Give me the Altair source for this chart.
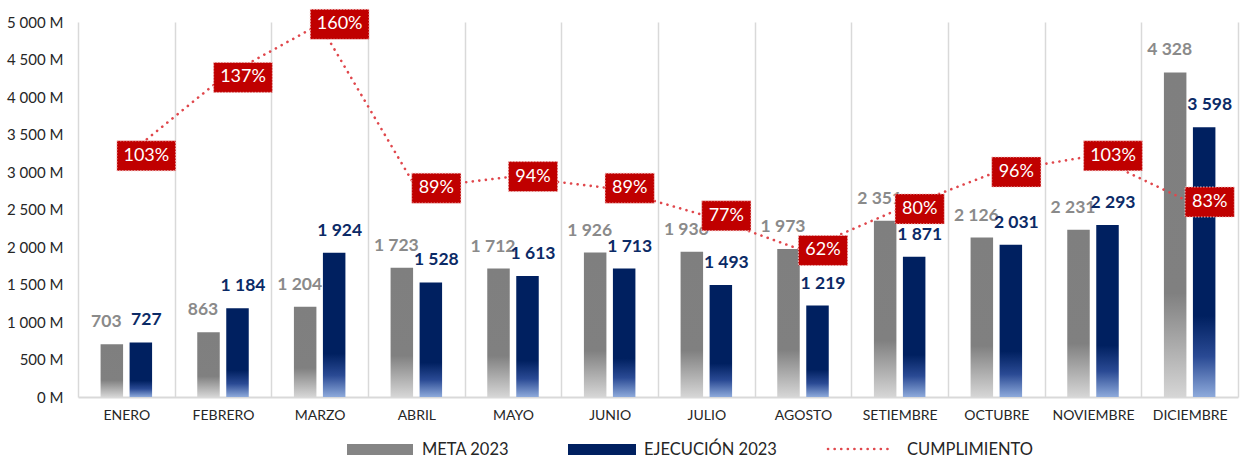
import altair as alt
import pandas as pd

# ---------------- data ----------------
meses = ["ENERO", "FEBRERO", "MARZO", "ABRIL", "MAYO", "JUNIO", "JULIO",
         "AGOSTO", "SETIEMBRE", "OCTUBRE", "NOVIEMBRE", "DICIEMBRE"]
meta = [703, 863, 1204, 1723, 1712, 1926, 1936, 1973, 2351, 2126, 2231, 4328]
ejecucion = [727, 1184, 1924, 1528, 1613, 1713, 1493, 1219, 1871, 2031, 2293, 3598]
cumplimiento = [103, 137, 160, 89, 94, 89, 77, 62, 80, 96, 103, 83]
y_ticks = [0, 500, 1000, 1500, 2000, 2500, 3000, 3500, 4000, 4500, 5000]
serie_meta = "META 2023"
serie_ejec = "EJECUCIÓN 2023"
serie_cump = "CUMPLIMIENTO"

df = pd.DataFrame({"mes": meses, "meta": meta, "ejec": ejecucion, "cump": cumplimiento})

FONT = "Lato"
W, H = 1160, 375
NAVY = "#002060"
RED_BOX = "#c00000"
RED_LINE = "#e0474c"
TXT = "#262626"

x_enc = alt.X(
    "mes:N", sort=meses,
    scale=alt.Scale(paddingInner=0, paddingOuter=0),
    axis=alt.Axis(title=None, labelAngle=0, labelFontSize=14, labelColor=TXT,
                  labelFont=FONT, labelPadding=11, ticks=False,
                  domainColor="#d9d9d9", domainWidth=2, grid=True,
                  gridColor="#d9d9d9", gridWidth=1.5, tickBand="extent"),
)
y_scale = alt.Scale(domain=[0, 5000], nice=False)
y_axis = alt.Axis(title=None, values=y_ticks,
                  labelExpr="replace(format(datum.value, ','), ',', ' ') + ' M'",
                  labelFontSize=15, labelColor=TXT, labelFont=FONT,
                  labelPadding=15, ticks=False, domain=False, grid=False)

grad_meta = alt.LinearGradient(
    gradient="linear", x1=0, y1=0, x2=0, y2=1,
    stops=[alt.GradientStop(offset=0, color="#7f7f7f"),
           alt.GradientStop(offset=0.68, color="#808080"),
           alt.GradientStop(offset=1, color="#d6d6d6")])
grad_ejec = alt.LinearGradient(
    gradient="linear", x1=0, y1=0, x2=0, y2=1,
    stops=[alt.GradientStop(offset=0, color="#002060"),
           alt.GradientStop(offset=0.70, color="#002060"),
           alt.GradientStop(offset=0.85, color="#2a4a94"),
           alt.GradientStop(offset=1, color="#8eaadb")])

base = alt.Chart(df)

bar_meta = base.mark_bar(width=22.5, xOffset=-14.5, fill=grad_meta).encode(
    x=x_enc, y=alt.Y("meta:Q", scale=y_scale, axis=y_axis))
bar_ejec = base.mark_bar(width=22.5, xOffset=14.5, fill=grad_ejec).encode(
    x=x_enc, y=alt.Y("ejec:Q", scale=y_scale, axis=y_axis))
lbl_meta = base.transform_calculate(
    lbl="replace(format(datum.meta, ','), ',', ' ')"
).mark_text(dy=-22, xOffset=-20, fontSize=17.5, fontWeight="bold", color="#8a8a8a",
            font=FONT).encode(
    x=x_enc, y=alt.Y("meta:Q", scale=y_scale, axis=y_axis), text="lbl:N")
lbl_ejec = base.transform_calculate(
    lbl="replace(format(datum.ejec, ','), ',', ' ')"
).mark_text(dy=-22, xOffset=20, fontSize=17.5, fontWeight="bold", color="#0b2a66",
            font=FONT).encode(
    x=x_enc, y=alt.Y("ejec:Q", scale=y_scale, axis=y_axis), text="lbl:N")

left = alt.layer(bar_meta, bar_ejec, lbl_meta, lbl_ejec)

p_scale = alt.Scale(domain=[-1.5, 161], nice=False)
line = base.mark_line(color=RED_LINE, strokeWidth=2.6, strokeDash=[0.1, 6.5],
                      strokeCap="round").encode(
    x=x_enc, y=alt.Y("cump:Q", scale=p_scale, axis=None))

narrow = "M-0.82,-0.5H0.82V0.5H-0.82Z"
wide = "M-0.98,-0.5H0.98V0.5H-0.98Z"
boxes = base.mark_point(filled=True, size=3600, fill=RED_BOX, opacity=1,
                        stroke="#f3c6c6", strokeWidth=1, strokeDash=[1.5, 1.5],
                        xOffset=20).encode(
    x=x_enc, y=alt.Y("cump:Q", scale=p_scale, axis=None),
    shape=alt.condition("datum.cump >= 100", alt.value(wide), alt.value(narrow)))
box_txt = base.transform_calculate(lbl="datum.cump + '%'").mark_text(
    xOffset=20, color="white", fontSize=18, font=FONT).encode(
    x=x_enc, y=alt.Y("cump:Q", scale=p_scale, axis=None), text="lbl:N")

right = alt.layer(line, boxes, box_txt)

# ---------------- legend (drawn below the plot) ----------------
one = alt.Data(values=[{"k": 0}])
leg_y = 428
leg = [
    alt.Chart(one).mark_rect(color="#858585").encode(
        x=alt.value(269), x2=alt.value(335), y=alt.value(leg_y - 6), y2=alt.value(leg_y + 5)),
    alt.Chart(one).mark_text(align="left", fontSize=16.5, font=FONT, color=TXT).encode(
        x=alt.value(344), y=alt.value(leg_y), text=alt.value(serie_meta)),
    alt.Chart(one).mark_rect(color=NAVY).encode(
        x=alt.value(490), x2=alt.value(558), y=alt.value(leg_y - 6), y2=alt.value(leg_y + 5)),
    alt.Chart(one).mark_text(align="left", fontSize=16.5, font=FONT, color=TXT).encode(
        x=alt.value(566), y=alt.value(leg_y), text=alt.value(serie_ejec)),
    alt.Chart(one).mark_rule(color=RED_LINE, strokeWidth=2.6, strokeDash=[0.1, 6.5],
                             strokeCap="round").encode(
        x=alt.value(750), x2=alt.value(812), y=alt.value(leg_y - 1)),
    alt.Chart(one).mark_text(align="left", fontSize=16.5, font=FONT, color=TXT).encode(
        x=alt.value(829), y=alt.value(leg_y), text=alt.value(serie_cump)),
]

chart = alt.layer(left, right, *leg).resolve_scale(y="independent").properties(
    width=W, height=H,
    autosize=alt.AutoSizeParams(type="none"),
    padding={"left": 78, "top": 22, "right": 8, "bottom": 63},
).configure_view(stroke=None)

chart.save("out.html", embed_options={"renderer": "svg", "actions": False})
